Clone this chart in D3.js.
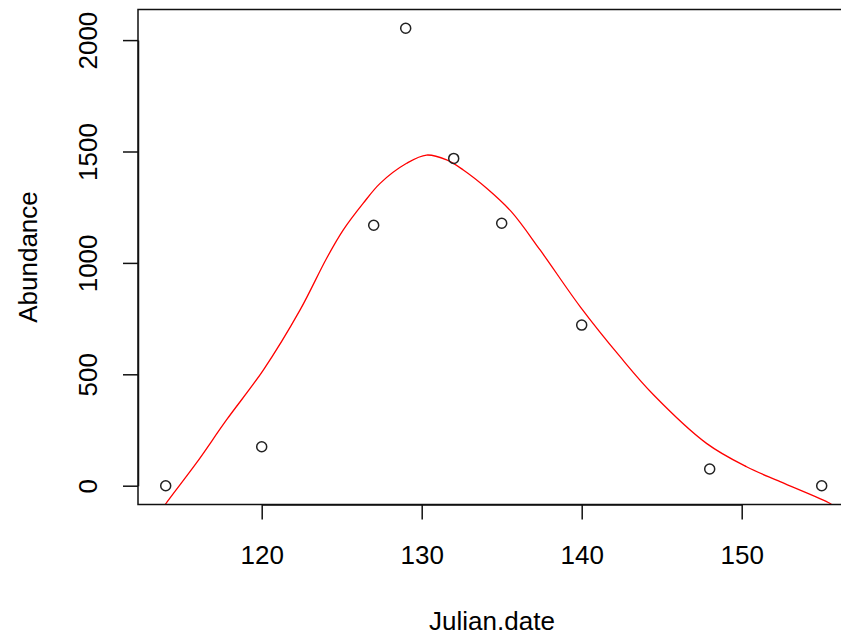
<!DOCTYPE html>
<html>
<head>
<meta charset="utf-8">
<script src="https://cdn.jsdelivr.net/npm/d3@7"></script>
<style>
  html, body { margin: 0; padding: 0; background: #fff; overflow: hidden; }
  svg { display: block; }
  svg text { font-family: "Liberation Sans", Arial, sans-serif; fill: #000; }
</style>
</head>
<body>
<svg id="chart" width="841" height="641"></svg>
<script>
// observed points
const julianDate = [114, 120, 127, 129, 132, 135, 140, 148, 155];
const abundance = [0, 175, 1169, 2053, 1469, 1178, 721, 75, 0];

// fitted curve
const fitDate = [113.9, 114.0, 115.9, 117.8, 120.1, 122.4, 124.06, 125.1, 126.35, 127.4, 129.06, 130.3,
  131.56, 132.6, 134.06, 135.6, 137.4, 139.9, 142.4, 144.5, 147.8, 150.3, 152.4, 155.5, 155.7];
const fitAbundance = [-95, -82, 100, 295, 519, 789, 1021, 1148, 1268, 1357, 1447, 1484,
  1462, 1417, 1335, 1230, 1058, 804, 579, 407, 190, 85, 18, -79, -90];

const xTicks = [120, 130, 140, 150];
const yTicks = [0, 500, 1000, 1500, 2000];

// right edge of the plot box falls outside the picture
const box = { left: 138, top: 9.5, right: 852, bottom: 504.5 };

const svg = d3.select('#chart');

const x = d3.scaleLinear().domain([120, 150]).range([261.7, 741.7]);
const y = d3.scaleLinear().domain([0, 2000]).range([485.7, 40.1]);

// clip to plot region
svg.append("defs").append("clipPath")
    .attr("id", "clip")
    .append("rect")
    .attr("x", box.left)
    .attr("y", box.top)
    .attr("width", box.right - box.left)
    .attr("height", box.bottom - box.top);

// fitted line
const fit = fitDate.map((d, i) => ({ x: d, y: fitAbundance[i] }));
svg.append("path")
    .datum(fit)
    .attr("clip-path", "url(#clip)")
    .attr("fill", "none")
    .attr("stroke", "#ff0000")
    .attr("stroke-width", 1.3)
    .attr("d", d3.line()
        .x(d => x(d.x))
        .y(d => y(d.y))
        .curve(d3.curveCatmullRom));

// points
svg.selectAll(".dot")
    .data(julianDate.map((d, i) => ({ x: d, y: abundance[i] })))
    .enter()
    .append("circle")
    .attr("class", "dot")
    .attr("cx", d => x(d.x))
    .attr("cy", d => y(d.y))
    .attr("r", 5)
    .attr("fill", "none")
    .attr("stroke", "#222")
    .attr("stroke-width", 1.5);

// box
svg.append("rect")
    .attr("x", box.left)
    .attr("y", box.top)
    .attr("width", box.right - box.left)
    .attr("height", box.bottom - box.top)
    .attr("fill", "none")
    .attr("stroke", "#111")
    .attr("stroke-width", 1.5);

// x axis
const gX = svg.append("g")
    .attr("transform", `translate(0,${box.bottom})`)
    .call(d3.axisBottom(x).tickValues(xTicks).tickFormat(d3.format("d"))
        .tickSize(15).tickPadding(24).tickSizeOuter(0));

// y axis
const gY = svg.append("g")
    .attr("transform", `translate(${box.left},0)`)
    .call(d3.axisLeft(y).tickValues(yTicks).tickFormat(d3.format("d"))
        .tickSize(15).tickPadding(0).tickSizeOuter(0));

[gX, gY].forEach(g => {
    g.select(".domain").attr("stroke", "#111").attr("stroke-width", 1.5);
    g.selectAll(".tick line").attr("stroke", "#111").attr("stroke-width", 1.5);
    g.selectAll("text")
        .style("font-size", "26px")
        .style("font-family", '"Liberation Sans", Arial, sans-serif')
        .attr("fill", "#000");
});

gX.selectAll("text")
    .attr("dy", 0)
    .attr("y", 564 - box.bottom);

gY.selectAll("text")
    .attr("x", 0)
    .attr("y", 0)
    .attr("dy", 0)
    .attr("text-anchor", "middle")
    .attr("transform", `translate(${97 - box.left},0) rotate(-90)`);

// axis titles
svg.append("text")
    .attr("x", 492)
    .attr("y", 630)
    .attr("text-anchor", "middle")
    .style("font-size", "26px")
    .text("Julian.date");

svg.append("text")
    .attr("transform", `translate(37,${(box.top + box.bottom) / 2}) rotate(-90)`)
    .attr("text-anchor", "middle")
    .style("font-size", "26px")
    .text("Abundance");
</script>
</body>
</html>
